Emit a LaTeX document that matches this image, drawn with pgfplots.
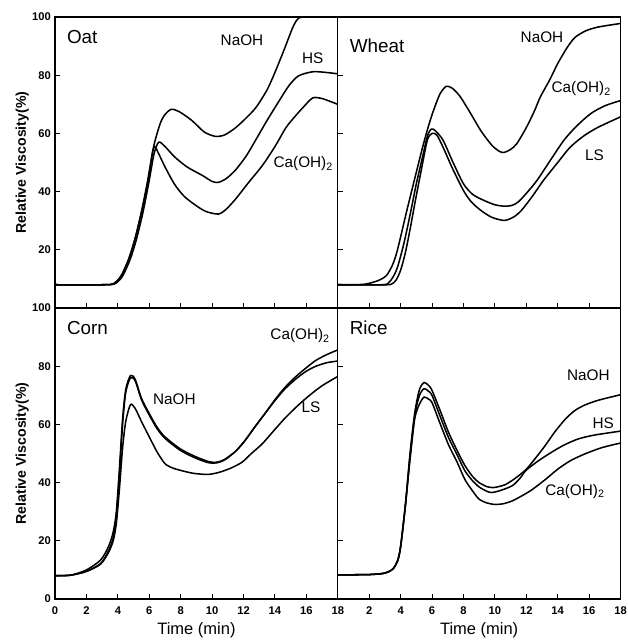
\documentclass[border=0pt]{standalone}
\usepackage{fontspec}
\setmainfont{Liberation Sans}
\usepackage{pgfplots}
\pgfplotsset{compat=1.18}

\pgfplotsset{
  panel/.style={
    scale only axis, width=240pt, height=247pt,
    xmin=0, xmax=18, ymin=0, ymax=100,
    axis line style={line width=1.2pt},
    tick align=inside, xtick pos=bottom, ytick pos=left,
    tick style={black, line width=0.8pt}, major tick length=4pt,
    xtick={0,2,...,18}, ytick={0,20,...,100},
    tick label style={font=\fontsize{9.5}{10}\selectfont\bfseries},
    xticklabel style={yshift=-3pt},
    /pgf/number format/assume math mode=true,
    label style={font=\fontsize{14}{16}\selectfont},
    ylabel style={font=\fontsize{12}{14}\selectfont\bfseries, yshift=-4pt},
    every axis plot post/.append style={black, line width=1.3pt, smooth, tension=0.45, mark=none},
  },
}
\tikzset{
  ttl/.style={anchor=north west, font=\fontsize{16}{18}\selectfont},
  lbl/.style={font=\fontsize{13}{15}\selectfont},
}

\begin{document}
\begin{tikzpicture}

% Oat
\begin{axis}[panel, at={(0,247pt)}, xticklabels={}, ytick={20,40,60,80,100},
  ylabel={Relative Viscosity(\%)}]
\addplot coordinates {(0,8)(3.0,8)(3.7,8.3)(4.2,11)(4.7,17)(5.1,24)(5.5,33)(5.9,44)(6.3,56)(6.7,63.5)(7.0,66.5)(7.4,68.3)(7.9,67.5)(8.7,64.5)(9.5,60.5)(10.2,59)(10.8,59.5)(11.5,62)(12.2,65.5)(12.8,69)(13.5,75)(14.0,81)(14.6,89)(15.1,96)(15.4,99)(15.8,100)(18,100)};
\addplot coordinates {(0,8)(3.0,8)(3.8,8.3)(4.3,11)(4.8,17)(5.2,24)(5.6,33)(6.0,44)(6.3,53)(6.6,57)(7.0,55.5)(7.6,52)(8.4,48.5)(9.4,45.5)(10.0,43.5)(10.4,43.2)(10.9,44.5)(11.5,47.5)(12.2,52.5)(12.8,58)(13.5,64.5)(14.3,71.5)(14.9,76.5)(15.5,79.8)(16.4,81.2)(17.2,81)(18,80.5)};
\addplot coordinates {(0,8)(3.0,8)(3.7,8.3)(4.2,11)(4.7,17)(5.1,24)(5.5,33)(5.9,43)(6.2,53.5)(6.35,55.5)(6.6,53)(7.0,48.5)(7.6,42.6)(8.2,38.5)(8.9,35.5)(9.6,33.2)(10.4,32.3)(10.9,34)(11.5,37.5)(12.3,43)(13.2,49)(14.0,55.5)(14.7,62)(15.3,66)(15.8,69)(16.4,72.2)(17.0,72)(18,70)};
\node[ttl] at (axis cs:0.5,97) {Oat};
\node[lbl] at (axis cs:11.9,92) {NaOH};
\node[lbl] at (axis cs:16.4,86) {HS};
\node[lbl] at (axis cs:15.8,49.7) {Ca(OH)\textsubscript{2}};
\end{axis}

% Wheat
\begin{axis}[panel, at={(240pt,247pt)}, xticklabels={}, yticklabels={}]
\addplot coordinates {(0,8)(1.5,8.1)(2.0,8.5)(2.6,9.5)(3.1,11.2)(3.5,15)(3.8,20)(4.4,33.6)(4.9,44.5)(5.4,55.3)(5.8,63)(6.1,68)(6.5,73.5)(6.9,76.2)(7.3,75.5)(7.8,72.6)(8.5,66.5)(9.1,61)(9.8,56)(10.3,53.8)(10.6,53.5)(11.0,54.5)(11.4,56.5)(12.0,62)(12.5,67.5)(12.9,72.6)(13.5,78.5)(14.0,84)(14.6,89.5)(15.1,93)(15.8,95.3)(16.6,96.6)(18,97.8)};
\addplot coordinates {(0,8)(2.8,8)(3.2,8.5)(3.5,10.5)(3.8,14)(4.2,22)(4.6,32)(5.0,42.7)(5.4,52)(5.7,59)(5.95,61.5)(6.2,61)(6.7,57.7)(7.3,50.5)(8.0,42.7)(8.6,39)(9.3,37)(10.0,35.5)(10.6,35)(11.1,35.3)(11.5,36.5)(12.1,40)(12.7,44)(13.5,50.5)(14.4,57.7)(15.2,62.5)(16.1,66.8)(17.0,69.5)(18,71.3)};
\addplot coordinates {(0,8)(3.0,8)(3.4,8.2)(3.7,9.5)(4.0,13)(4.3,19)(4.6,27)(4.9,35.8)(5.3,47)(5.7,57.7)(6.0,60)(6.3,59.5)(6.7,55.3)(7.3,48)(8.0,40.4)(8.5,36.5)(9.1,33.6)(9.8,31.2)(10.6,30.1)(11.2,31.3)(11.7,33.6)(12.4,38.5)(13.1,43.9)(14.0,50)(14.8,55.3)(15.7,59.3)(16.6,62.2)(18,65.7)};
\node[ttl] at (axis cs:0.5,94) {Wheat};
\node[lbl] at (axis cs:13.0,93) {NaOH};
\node[lbl] at (axis cs:15.5,75.3) {Ca(OH)\textsubscript{2}};
\node[lbl] at (axis cs:16.35,52.6) {LS};
\end{axis}

% Corn
\begin{axis}[panel, at={(0,0)}, xlabel={Time (min)}, ylabel={Relative Viscosity(\%)}]
\addplot coordinates {(0,8)(1,8.2)(2,10)(2.9,13.4)(3.4,18)(3.7,23)(3.9,30)(4.1,45)(4.3,62)(4.5,72)(4.8,76.8)(5.1,75.5)(5.5,69)(6.0,63.7)(6.5,59)(7.0,55.7)(8.0,51.5)(9.0,48.8)(9.8,47.2)(10.3,47)(10.8,48)(11.5,50.8)(12.1,54.5)(12.7,59)(13.4,64)(14.0,68.5)(14.6,72.5)(15.3,76.3)(16.0,79.5)(16.6,82)(17.3,84)(18,85.6)};
\addplot coordinates {(0,8)(1,8.2)(2,9.5)(2.9,12.2)(3.4,16.5)(3.7,21)(3.9,28)(4.1,43)(4.3,60)(4.5,71)(4.8,76)(5.1,75)(5.5,68.5)(6.0,63.2)(6.5,58.5)(7.0,55.2)(8.0,51)(9.0,48.3)(9.8,46.8)(10.3,46.8)(10.8,47.8)(11.5,50.8)(12.1,54.5)(12.7,59)(13.4,64)(14.0,68.2)(14.6,72)(15.3,75.5)(16.0,78.3)(16.6,80)(17.3,81.2)(18,81.8)};
\addplot coordinates {(0,8)(1,8.2)(2,9.5)(2.9,12)(3.4,16)(3.7,20)(3.9,26)(4.1,38)(4.3,52)(4.5,61)(4.8,66.8)(5.1,65.5)(5.5,61)(6.0,55.7)(6.5,50.5)(7.0,46.5)(7.5,45)(8.0,44.2)(8.8,43.2)(9.7,42.8)(10.2,43.2)(10.6,43.8)(11.2,45)(11.9,47)(12.5,50)(13.2,53.4)(14.0,58.3)(14.7,62.5)(15.5,66.7)(16.2,70)(17.0,73.3)(18,76.5)};
\node[ttl] at (axis cs:0.5,97) {Corn};
\node[lbl] at (axis cs:15.6,90.5) {Ca(OH)\textsubscript{2}};
\node[lbl] at (axis cs:7.6,68.8) {NaOH};
\node[lbl] at (axis cs:16.3,66) {LS};
\end{axis}

% Rice
\begin{axis}[panel, at={(240pt,0)}, xtick={2,4,...,18}, yticklabels={}, xlabel={Time (min)}]
\addplot coordinates {(0,8.3)(2,8.4)(3.0,8.9)(3.5,10.3)(3.8,13)(4.0,18)(4.3,32)(4.6,50)(4.9,64)(5.2,72)(5.5,74.4)(5.8,73.3)(6.0,71.7)(6.5,65)(7.05,57.3)(7.6,51)(8.1,45.8)(8.6,42)(9.0,40)(9.5,38.6)(9.9,38.3)(10.3,38.7)(10.7,39.4)(11.3,41.5)(12.0,44.6)(12.6,48.5)(13.2,52.7)(13.8,57.3)(14.5,61.9)(15.1,64.8)(15.7,66.6)(16.4,68)(17.0,68.9)(18,70.2)};
\addplot coordinates {(0,8.3)(2,8.4)(3.0,8.9)(3.5,10.3)(3.8,13)(4.0,18)(4.3,32)(4.6,49)(4.9,63)(5.2,70)(5.5,72.3)(5.8,71.3)(6.0,70)(6.5,63)(7.05,55.5)(7.6,49.5)(8.1,44)(8.6,40.5)(9.0,38.5)(9.5,37)(9.8,36.6)(10.3,37.2)(11.1,38.9)(11.6,41.5)(12.0,44.3)(12.8,47.6)(13.6,50.4)(14.4,52.9)(15.3,55)(16.2,56.2)(17.0,56.9)(18,57.7)};
\addplot coordinates {(0,8.3)(2,8.4)(3.0,8.9)(3.5,10.3)(3.8,13)(4.0,18)(4.3,32)(4.6,48)(4.9,62)(5.2,67)(5.5,69.4)(5.8,68.6)(6.0,67.5)(6.5,60.5)(7.05,53)(7.6,47)(8.1,41)(8.6,37)(9.0,34.3)(9.5,33)(10,32.5)(10.5,32.7)(11.1,33.7)(11.8,35.7)(12.4,37.7)(13.2,41)(14.0,44.6)(14.8,47.5)(15.7,49.8)(16.8,52)(18,53.6)};
\node[ttl] at (axis cs:0.5,97) {Rice};
\node[lbl] at (axis cs:15.95,77) {NaOH};
\node[lbl] at (axis cs:16.9,60.5) {HS};
\node[lbl] at (axis cs:15.1,37.1) {Ca(OH)\textsubscript{2}};
\end{axis}

\pgfresetboundingbox
\path (-46.75pt,-36.5pt) rectangle (486pt,508.5pt);
\end{tikzpicture}
\end{document}
